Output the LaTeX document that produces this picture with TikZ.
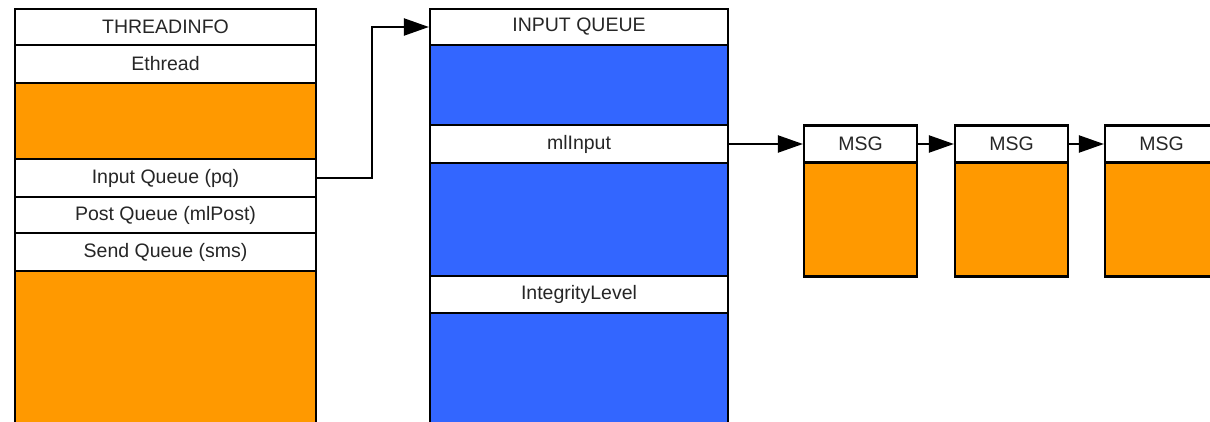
\documentclass[tikz,border=0pt]{standalone}
\usepackage{fontspec}
\setmainfont{Liberation Sans}
\usetikzlibrary{arrows.meta}
\definecolor{fieldorange}{HTML}{FF9900}
\definecolor{fieldblue}{HTML}{3366FF}

\begin{document}
\begin{tikzpicture}[x=1pt, y=-1pt,
    field/.style ={rectangle, draw, line width=2.2pt, fill=white, inner sep=0pt,
                   font=\fontsize{19.5}{22}\selectfont, text=black!85},
    orangefield/.style ={field, fill=fieldorange},
    bluefield/.style ={field, fill=fieldblue},
    link/.style ={line width=2.2pt, -{Triangle[length=25pt,width=17pt]}}]
   \useasboundingbox (0,0) rectangle (1210,422);
   \clip (0,0) rectangle (1210,422);
   % THREADINFO
   \node[field, minimum width=301pt, minimum height=36pt] (ti) at (165.5,27) {THREADINFO};
   \node[field, minimum width=301pt, minimum height=38pt] (eth) at (165.5,64) {Ethread};
   \node[orangefield, minimum width=301pt, minimum height=76pt] (tiA) at (165.5,121) {};
   \node[field, minimum width=301pt, minimum height=38pt] (pq) at (165.5,178) {Input Queue (pq)};
   \node[field, minimum width=301pt, minimum height=36pt] (post) at (165.5,215) {Post Queue (mlPost)};
   \node[field, minimum width=301pt, minimum height=38pt] (sms) at (165.5,252) {Send Queue (sms)};
   \node[orangefield, minimum width=301pt, minimum height=169pt] (tiB) at (165.5,355.5) {};
   % INPUT QUEUE
   \node[field, minimum width=298pt, minimum height=36pt] (iq) at (579,27) {INPUT QUEUE};
   \node[bluefield, minimum width=298pt, minimum height=80pt] (iqA) at (579,85) {};
   \node[field, minimum width=298pt, minimum height=38pt] (ml) at (579,144) {mlInput};
   \node[bluefield, minimum width=298pt, minimum height=113pt] (iqB) at (579,219.5) {};
   \node[field, minimum width=298pt, minimum height=37pt] (il) at (579,294.5) {IntegrityLevel};
   \node[bluefield, minimum width=298pt, minimum height=127pt] (iqC) at (579,376.5) {};
   % MSG
   \node[field, minimum width=113pt, minimum height=37pt] (m1) at (860.5,144) {MSG};
   \node[orangefield, minimum width=113pt, minimum height=114pt] (m1b) at (860.5,219.5) {};
   \node[field, minimum width=113pt, minimum height=37pt] (m2) at (1011.5,144) {MSG};
   \node[orangefield, minimum width=113pt, minimum height=114pt] (m2b) at (1011.5,219.5) {};
   \node[field, minimum width=113pt, minimum height=37pt] (m3) at (1161.5,144) {MSG};
   \node[orangefield, minimum width=113pt, minimum height=114pt] (m3b) at (1161.5,219.5) {};
   \draw[link] (pq.east) -- ++(55,0) |- (iq.west);
   \draw[link] (ml.east) -- (m1.west);
   \draw[link] (m1.east) -- (m2.west);
   \draw[link] (m2.east) -- (m3.west);
\end{tikzpicture}
\end{document}
